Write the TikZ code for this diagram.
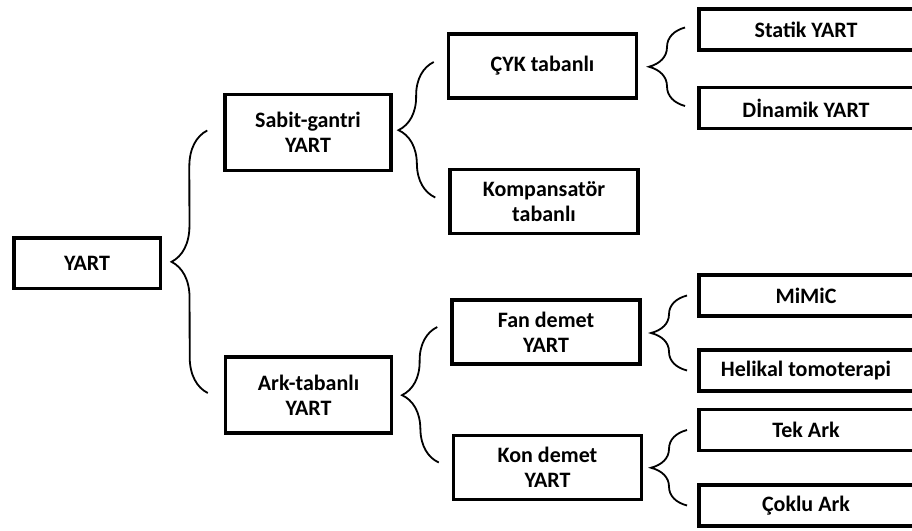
\documentclass[tikz,border=0pt]{standalone}
\usepackage{fontspec}
\setmainfont{Carlito}
\usetikzlibrary{calc, decorations.pathreplacing}

\begin{document}
\begin{tikzpicture}[x=1pt, y=-1pt,
  box/.style={draw, line width=3.5pt, align=center, inner sep=0pt, font=\fontsize{22}{25}\selectfont\bfseries},
  root/.style={box, minimum width=146.5pt, minimum height=50.5pt},
  lvl/.style={box, minimum width=166pt, minimum height=76pt},
  mid/.style={box, minimum width=188pt, minimum height=64pt},
  leaf/.style={box, minimum width=214.5pt, minimum height=41pt},
  brc/.style={decorate, decoration={brace, amplitude=36pt}, line width=1.8pt}]
\useasboundingbox (0,0) rectangle (912,530);
% boxes
\node[root] (yart) at (87,263) {YART};
\node[lvl] (sabit) at (308,132.5) {Sabit-gantri\\YART};
\node[lvl] (ark) at (308.5,395) {Ark-tabanl\i\\YART};
\node[mid] (cyk) at (542.5,66) {ÇYK tabanlı};
\node[mid] (komp) at (544,201.5) {Kompansatör\\tabanlı};
\node[mid] (fan) at (546,332) {Fan demet\\YART};
\node[mid] (kon) at (547.5,467.5) {Kon demet\\YART};
\node[leaf] (statik) at (806,29.5) {Statik YART};
\node[leaf] (dinamik) at (806,108) {Dİnamik YART};
\node[leaf] (mimic) at (806,295.5) {MiMiC};
\node[leaf] (helikal) at (806,370.5) {Helikal tomoterapi};
\node[leaf] (tek) at (806,430) {Tek Ark};
\node[leaf] (coklu) at (806,505.5) {Çoklu Ark};
% braces
\draw[brc] ([xshift=-16pt,yshift=2pt]ark.west) -- ([xshift=-16pt,yshift=2pt]sabit.west);
\draw[brc] ([xshift=-13pt,yshift=4pt]komp.west) -- ([xshift=-13pt,yshift=4pt]cyk.west);
\draw[brc] ([xshift=-12pt,yshift=2pt]dinamik.west) -- ([xshift=-12pt,yshift=2pt]statik.west);
\draw[brc] ([xshift=-13pt,yshift=5pt]kon.west) -- ([xshift=-13pt,yshift=5pt]fan.west);
\draw[brc] ([xshift=-10pt]helikal.west) -- ([xshift=-10pt]mimic.west);
\draw[brc] ([xshift=-10pt]coklu.west) -- ([xshift=-10pt]tek.west);
\end{tikzpicture}
\end{document}
